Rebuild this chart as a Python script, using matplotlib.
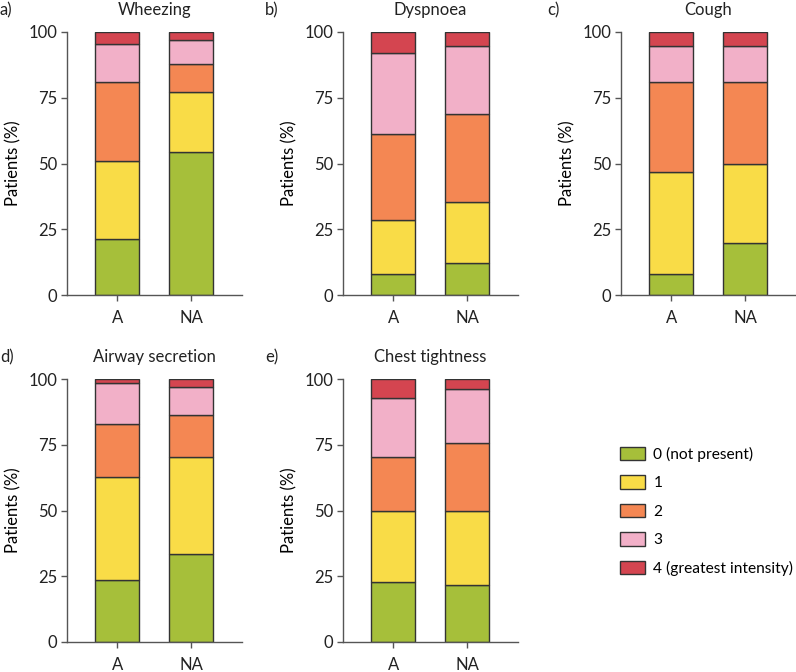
import matplotlib
matplotlib.use("Agg")
import numpy as np
from matplotlib import pyplot as plt
from matplotlib.patches import Patch

plt.rcParams['font.family'] = ['Lato', 'DejaVu Sans']
plt.rcParams['font.size'] = 12

groups = ["A", "NA"]
levels = ["0 (not present)", "1", "2", "3", "4 (greatest intensity)"]
colors = ["#a6bf3a", "#f9dc47", "#f48753", "#f2b0c8", "#d44550"]

titles = ["Wheezing", "Dyspnoea", "Cough", "Airway secretion", "Chest tightness"]
letters = ["a)", "b)", "c)", "d)", "e)"]

# percentage of patients per intensity level (0..4), for A and NA
wheezing_a = [21.3, 29.8, 30.0, 14.2, 4.7]
wheezing_na = [54.5, 22.5, 10.8, 9.0, 3.2]
dyspnoea_a = [8.1, 20.5, 32.6, 30.7, 8.1]
dyspnoea_na = [12.1, 23.1, 33.7, 25.6, 5.5]
cough_a = [8.1, 38.8, 34.0, 13.6, 5.5]
cough_na = [19.8, 30.1, 31.0, 13.6, 5.5]
secretion_a = [23.7, 39.0, 20.3, 15.4, 1.6]
secretion_na = [33.4, 37.0, 16.0, 10.4, 3.2]
tightness_a = [22.7, 27.2, 20.5, 22.5, 7.1]
tightness_na = [21.7, 28.2, 25.6, 20.8, 3.7]

panels = [
    (wheezing_a, wheezing_na),
    (dyspnoea_a, dyspnoea_na),
    (cough_a, cough_na),
    (secretion_a, secretion_na),
    (tightness_a, tightness_na),
]

W, H = 796, 672
fig = plt.figure(figsize=(W / 100, H / 100), dpi=100)

# axes boxes in pixels: left, top, right, bottom
boxes = [(67, 32, 242, 295), (343, 32, 518, 295), (621, 32, 796, 295),
         (67, 379, 242, 642), (343, 379, 518, 642)]
letter_x = [0, 265, 547, 0, 265]

spine_col = "#555555"
for i, (box, (a_vals, na_vals)) in enumerate(zip(boxes, panels)):
    l, t, r, b = box
    ax = fig.add_axes([l / W, 1 - b / H, (r - l) / W, (b - t) / H])
    x = np.arange(len(groups))
    data = np.array([a_vals, na_vals]).T
    bottom = np.zeros(len(groups))
    for lvl in range(len(levels)):
        ax.bar(x, data[lvl], 0.6, bottom=bottom, color=colors[lvl],
               edgecolor="#333333", linewidth=1.0)
        bottom += data[lvl]
    ax.set_xlim(-0.68, 1.69)
    ax.set_ylim(0, 100)
    ax.set_yticks([0, 25, 50, 75, 100])
    ax.set_xticks(x)
    ax.set_xticklabels(groups)
    ax.set_ylabel("Patients (%)", labelpad=5)
    ax.spines['top'].set_visible(False)
    ax.spines['right'].set_visible(False)
    for s in ['left', 'bottom']:
        ax.spines[s].set_color(spine_col)
        ax.spines[s].set_linewidth(1.0)
    ax.tick_params(colors=spine_col, labelcolor="#222222", length=4, width=1.0)
    ax.tick_params(axis='x', pad=7)
    ax.tick_params(axis='y', pad=3)
    ax.set_title(titles[i], fontsize=12, pad=12, color="#222222")
    fig.text(letter_x[i] / W, 1 - (t - 22) / H, letters[i], ha="left", va="center",
             color="#222222")

handles = [Patch(facecolor=c, edgecolor="#333333", linewidth=1.0) for c in colors]
fig.legend(handles, levels, loc="upper left", bbox_to_anchor=(620 / W, 1 - 447 / H),
           frameon=False, borderpad=0, borderaxespad=0, fontsize=11.2,
           handlelength=1.6, handleheight=0.95, labelspacing=0.86, handletextpad=0.55)

fig.savefig("out.png", dpi=100)
